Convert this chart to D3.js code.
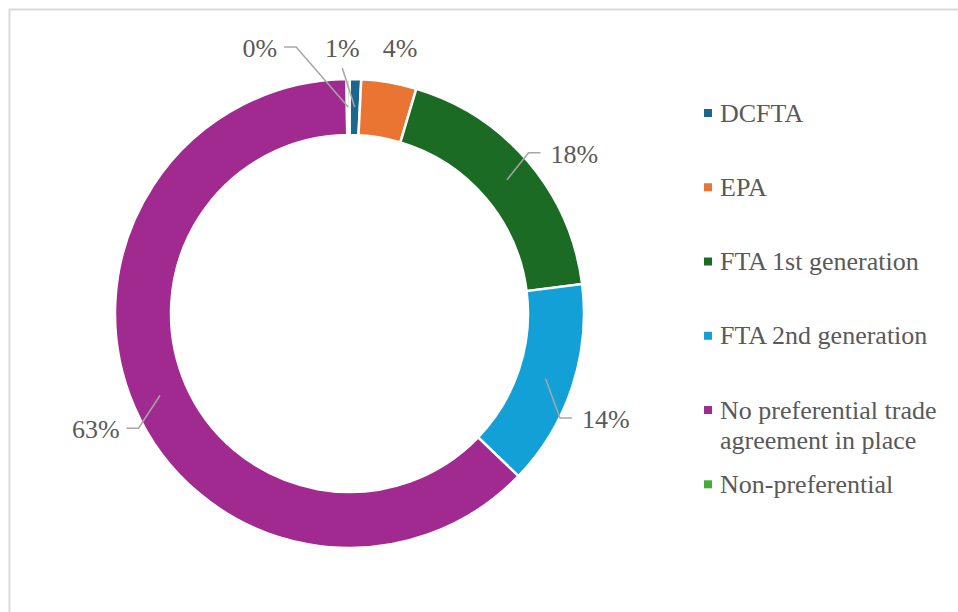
<!DOCTYPE html>
<html>
<head>
<meta charset="utf-8">
<script src="https://cdn.jsdelivr.net/npm/d3@7"></script>
<style>
    body { margin: 0; background: #ffffff; }
</style>
</head>
<body>
<div id="chart"></div>
<script>
// data
const categories = ["DCFTA", "EPA", "FTA 1st generation", "FTA 2nd generation",
		    "No preferential trade agreement in place", "Non-preferential"];
const shares = [0.8, 3.8, 18.4, 14.2, 62.6, 0.2];
const colors = ["#1b668f", "#ea7533", "#1c6b24", "#12a0d6", "#a02a8f", "#46ab37"];
// legend lines (long name wraps to two lines)
const legendLines = [["DCFTA"], ["EPA"], ["FTA 1st generation"], ["FTA 2nd generation"],
		     ["No preferential trade", "agreement in place"], ["Non-preferential"]];

// label placement: nudge from a point on the label ring, and whether a leader is drawn
const labelNudge = [[-14, 4.5, true], [5, 0.5, false], [19, 15, true], [0, 20.5, true],
		    [-6, 8.5, true], [-88, 4.5, true]];

const width = 958, height = 612;
const cx = 349.5, cy = 313.5;
const outerR = 234.5, innerR = 178.5, labelR = 270;
const fontSize = 26;
const fontFamily = "'Liberation Serif', 'Times New Roman', 'DejaVu Serif', serif";

let svg = d3.select("#chart")
    .append("svg")
    .attr("width", width)
    .attr("height", height);

// frame
svg.append("rect")
    .attr("x", 9.5).attr("y", 9.5)
    .attr("width", width + 20).attr("height", height + 20)
    .attr("fill", "none")
    .attr("stroke", "#d9d9d9")
    .attr("stroke-width", 2);

let pie = d3.pie().sort(null).value(d => d);
let arcs = pie(shares);
let total = d3.sum(shares);
let pct = d3.format(".0%");

let arc = d3.arc().innerRadius(innerR).outerRadius(outerR);
let midArc = d3.arc().innerRadius((innerR + outerR) / 2).outerRadius((innerR + outerR) / 2);
let lblArc = d3.arc().innerRadius(labelR).outerRadius(labelR);

let g = svg.append("g")
    .attr("transform", "translate(" + cx + "," + cy + ")");

g.selectAll("path.slice")
    .data(arcs)
    .enter()
    .append("path")
    .attr("class", "slice")
    .attr("d", arc)
    .attr("fill", (d, i) => colors[i])
    .attr("stroke", "#ffffff")
    .attr("stroke-width", 2.5);

// data labels + leader lines
arcs.forEach(function(d, i) {
    let p = lblArc.centroid(d);
    let nx = p[0] + labelNudge[i][0];
    let ny = p[1] + labelNudge[i][1];
    let t = g.append("text")
	.attr("x", nx)
	.attr("y", ny + fontSize * 0.345)
	.attr("text-anchor", "middle")
	.attr("font-family", fontFamily)
	.attr("font-size", fontSize)
	.attr("fill", "#595959")
	.text(pct(d.value / total));
    if (!labelNudge[i][2])
	return;
    let w = t.node().getComputedTextLength();
    let a = midArc.centroid(d);
    let pts;
    if (Math.abs(a[0] - nx) < w / 2) {
	// label sits straight above the slice
	pts = [a, [nx, ny + 20]];
    } else if (a[0] > nx) {
	let ex = nx + w / 2 + 7;
	pts = [a, [ex + 12, ny - 1], [ex, ny - 1]];
    } else {
	let ex = nx - w / 2 - 10;
	pts = [a, [ex - 12, ny - 1], [ex, ny - 1]];
    }
    g.append("path")
	.attr("d", d3.line()(pts))
	.attr("fill", "none")
	.attr("stroke", "#a6a6a6")
	.attr("stroke-width", 1.5);
});

// legend
let y = d3.scaleLinear().domain([0, categories.length - 1]).range([121.7, 493]);
let legend = svg.append("g");
legendLines.forEach(function(lines, i) {
    legend.append("rect")
	.attr("x", 704).attr("y", y(i) - 12.7)
	.attr("width", 8).attr("height", 8)
	.attr("fill", colors[i]);
    lines.forEach(function(s, j) {
	legend.append("text")
	    .attr("x", 720)
	    .attr("y", y(i) + j * 30)
	    .attr("font-family", fontFamily)
	    .attr("font-size", fontSize)
	    .attr("fill", "#595959")
	    .text(s);
    });
});
</script>
</body>
</html>
